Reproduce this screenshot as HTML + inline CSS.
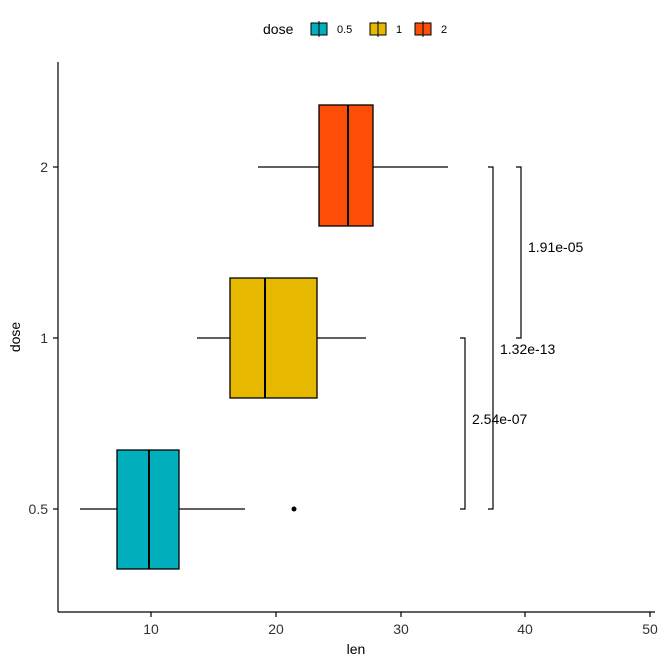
<!DOCTYPE html>
<html><head><style>body{margin:0;background:#fff}</style></head><body>
<svg width="664" height="664" xmlns="http://www.w3.org/2000/svg" font-family="Liberation Sans, sans-serif">
<rect width="664" height="664" fill="#fff"/>
<!-- legend -->
<text x="263" y="34" font-size="14" fill="#000">dose</text>
<g stroke="#000" stroke-width="1">
<line x1="319" y1="21" x2="319" y2="37"/><rect x="311" y="23" width="16" height="12" fill="#00AFBB"/><line x1="319" y1="23" x2="319" y2="35"/>
<line x1="378" y1="21" x2="378" y2="37"/><rect x="370" y="23" width="16" height="12" fill="#E7B800"/><line x1="378" y1="23" x2="378" y2="35"/>
<line x1="423" y1="21" x2="423" y2="37"/><rect x="415" y="23" width="16" height="12" fill="#FC4E07"/><line x1="423" y1="23" x2="423" y2="35"/>
</g>
<text x="337" y="33" font-size="11">0.5</text>
<text x="396" y="33" font-size="11">1</text>
<text x="441" y="33" font-size="11">2</text>
<!-- axes -->
<g stroke="#000" stroke-width="1.2">
<line x1="58" y1="62" x2="58" y2="612"/><line x1="58" y1="612" x2="655" y2="612"/>
<line x1="53" y1="509" x2="58" y2="509"/><line x1="53" y1="338" x2="58" y2="338"/><line x1="53" y1="167" x2="58" y2="167"/>
<line x1="151" y1="612" x2="151" y2="617"/><line x1="276" y1="612" x2="276" y2="617"/><line x1="401" y1="612" x2="401" y2="617"/><line x1="525" y1="612" x2="525" y2="617"/><line x1="650" y1="612" x2="650" y2="617"/>
</g>
<g font-size="14" fill="#333">
<text x="48" y="514" text-anchor="end">0.5</text><text x="48" y="343" text-anchor="end">1</text><text x="48" y="172" text-anchor="end">2</text>
<text x="151" y="634" text-anchor="middle">10</text><text x="276" y="634" text-anchor="middle">20</text><text x="401" y="634" text-anchor="middle">30</text><text x="525" y="634" text-anchor="middle">40</text><text x="650" y="634" text-anchor="middle">50</text>
</g>
<text x="356" y="654" font-size="14" text-anchor="middle">len</text>
<text transform="translate(20,337) rotate(-90)" font-size="14" text-anchor="middle">dose</text>
<!-- boxes -->
<g stroke="#000" stroke-width="1.3">
<line x1="80" y1="509" x2="245" y2="509"/><rect x="117" y="450" width="62" height="119" fill="#00AFBB"/><line x1="149" y1="450" x2="149" y2="569" stroke-width="2"/>
<line x1="197" y1="338" x2="366" y2="338"/><rect x="230" y="278" width="87" height="120" fill="#E7B800"/><line x1="265" y1="278" x2="265" y2="398" stroke-width="2"/>
<line x1="258" y1="167" x2="448" y2="167"/><rect x="319" y="105" width="54" height="121" fill="#FC4E07"/><line x1="348" y1="105" x2="348" y2="226" stroke-width="2"/>
</g>
<circle cx="294" cy="509" r="2.5" fill="#000"/>
<!-- brackets -->
<g stroke="#000" stroke-width="1.2" fill="none">
<polyline points="460,338 465,338 465,509 460,509"/>
<polyline points="488,167 493,167 493,509 488,509"/>
<polyline points="516,167 521,167 521,338 516,338"/>
</g>
<g font-size="14">
<text x="472" y="424">2.54e-07</text><text x="500" y="354">1.32e-13</text><text x="528" y="252">1.91e-05</text>
</g>
</svg>
</body></html>
